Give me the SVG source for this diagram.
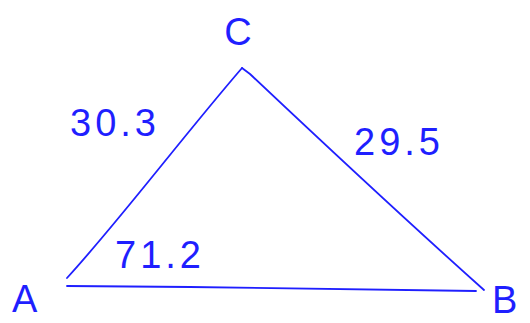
<svg xmlns="http://www.w3.org/2000/svg" width="530" height="323" viewBox="0 0 530 323">
<style>
.ln{fill:none;stroke:#1f1fff;stroke-width:1.8;stroke-linecap:round;stroke-linejoin:round}
.t{font-family:"Liberation Sans",Arial,sans-serif;fill:#1f1fff;font-size:38px}
</style>
<rect width="530" height="323" fill="#ffffff"/>
<g id="connectors">
<path id="edge-AC" class="ln" d="M67,278 C120,220 180,140 242,68"/>
<path id="edge-CB" class="ln" d="M242,68 L250,74 C320,140 400,215 484,290"/>
<path id="edge-AB" class="ln" d="M67,286 L190,287 L476,291"/>
</g>
<g id="node-C"><text class="t" x="238" y="45" text-anchor="middle">C</text></g>
<g id="node-A"><text class="t" x="12" y="312">A</text></g>
<g id="node-B"><text class="t" x="492" y="313">B</text></g>
<g id="label-AC"><text class="t" x="70" y="136" letter-spacing="4">30.3</text></g>
<g id="label-CB"><text class="t" x="354" y="155" letter-spacing="4">29.5</text></g>
<g id="label-AB"><text class="t" x="115" y="268" letter-spacing="4">71.2</text></g>
</svg>
